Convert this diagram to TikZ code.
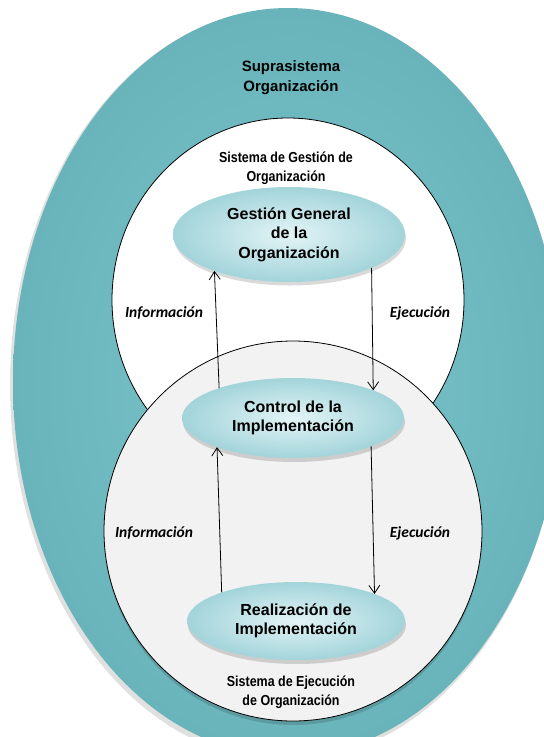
\documentclass[tikz,border=0pt]{standalone}
\usepackage{fontspec}
\setmainfont{Liberation Sans}
\newfontfamily\narrowfont{Liberation Sans}[FakeStretch=0.86]
\newfontfamily\calfont{Carlito}
\usetikzlibrary{shapes.geometric,arrows.meta}
\definecolor{tealin}{HTML}{7CC5CB}
\definecolor{tealout}{HTML}{69B4BB}
\definecolor{lightgray}{HTML}{F2F2F2}
\definecolor{nodein}{HTML}{E3F4F6}
\definecolor{nodeout}{HTML}{A2D4DA}
\tikzset{
  region/.style={ellipse, inner sep=0pt, outer sep=0pt},
  bubble/.style={ellipse, inner sep=0pt, outer sep=0pt, shading=radial,
    inner color=nodein, outer color=nodeout, align=center,
    font=\fontsize{16}{19.5}\selectfont\bfseries},
  bubshadow/.style={ellipse, inner sep=0pt, outer sep=0pt, fill=black, opacity=0.15},
  title/.style={align=center, font=\fontsize{15}{20}\selectfont\bfseries},
  systitle/.style={align=center, font=\narrowfont\fontsize{14.5}{19}\selectfont\bfseries},
  flowlabel/.style={font=\calfont\fontsize{15.5}{18}\selectfont\bfseries\itshape},
  arr/.style={line width=0.8pt, -{Straight Barb[length=8pt,width=11pt,line width=0.8pt]}}
}
\begin{document}
\begin{tikzpicture}[x=1pt,y=-1pt]
\useasboundingbox (0,0) rectangle (544,737);
\fill[white] (0,0) rectangle (544,737);
% outer suprasystem
\node[region, minimum width=552pt, minimum height=752pt, fill=black, opacity=0.12] (supraShadow) at (286,385) {};
\node[region, minimum width=550pt, minimum height=748pt, shading=radial, inner color=tealin, outer color=tealout] (supra) at (288,382) {};
% management system
\node[region, minimum width=352pt, minimum height=364pt, fill=white, draw=black, line width=0.8pt] (gestion) at (288,300) {};
% execution system
\node[region, minimum width=378pt, minimum height=382pt, fill=black, opacity=0.15] (ejecShadow) at (293,534) {};
\node[region, minimum width=378pt, minimum height=380pt, fill=lightgray, draw=black, line width=0.8pt] (ejecucion) at (293,531) {};
% titles
\node[title] (tSupra) at (291,78) {Suprasistema\\Organización};
\node[systitle] (tGestion) at (286,168) {Sistema de Gestión de\\Organización};
\node[systitle] (tEjec) at (291,692) {Sistema de Ejecución\\de Organización};
% bubbles
\node[bubshadow, minimum width=232pt, minimum height=95pt] (ggS) at (290,238) {};
\node[bubble, minimum width=232pt, minimum height=95pt] (gg) at (289,234.5) {Gestión General\\de la\\Organización};
\node[bubshadow, minimum width=222pt, minimum height=80pt] (ciS) at (294,422) {};
\node[bubble, minimum width=222pt, minimum height=80pt] (ci) at (293,418) {Control de la\\Implementación};
\node[bubshadow, minimum width=218pt, minimum height=78pt] (riS) at (297,625) {};
\node[bubble, minimum width=218pt, minimum height=78pt] (ri) at (296,621) {Realización de\\Implementación};
% flows
\draw[arr] (ci.158.5) -- (gg.206.3);
\draw[arr] (gg.338.2) -- (ci.19.6);
\draw[arr] (ri.159.3) -- (ci.201.5);
\draw[arr] (ci.340.9) -- (ri.19.7);
% flow labels
\node[flowlabel] (info1) at (164,313) {Información};
\node[flowlabel] (ejec1) at (420,313) {Ejecución};
\node[flowlabel] (info2) at (154,533) {Información};
\node[flowlabel] (ejec2) at (420,533) {Ejecución};
\end{tikzpicture}
\end{document}
